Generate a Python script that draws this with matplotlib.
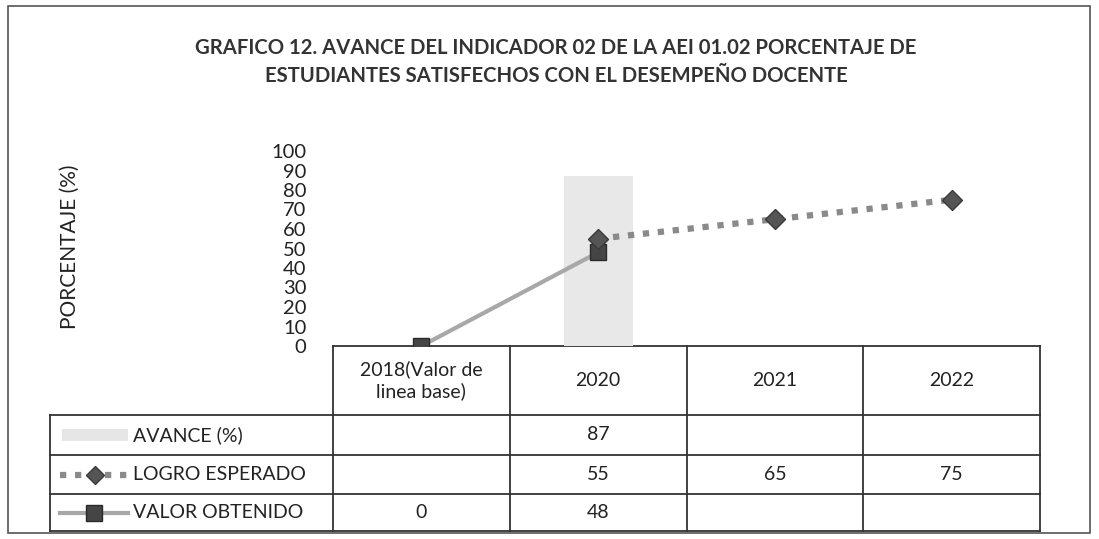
import matplotlib
matplotlib.use("Agg")
import matplotlib.pyplot as plt
from matplotlib.patches import Rectangle
import numpy as np

plt.rcParams['font.family'] = ['Lato', 'DejaVu Sans']

categories = ["2018(Valor de\nlinea base)", "2020", "2021", "2022"]
avance = [None, 87, None, None]
logro = [None, 55, 65, 75]
valor = [0, 48, None, None]
yticks = [0, 10, 20, 30, 40, 50, 60, 70, 80, 90, 100]
title = ("GRAFICO 12. AVANCE DEL INDICADOR 02 DE LA AEI 01.02 PORCENTAJE DE\n"
         "ESTUDIANTES SATISFECHOS CON EL DESEMPEÑO DOCENTE")
series_names = ["AVANCE (%)", "LOGRO ESPERADO", "VALOR OBTENIDO"]

W, H = 1099, 539
fig = plt.figure(figsize=(W / 100, H / 100), dpi=100)

ov = fig.add_axes([0, 0, 1, 1])
ov.set_xlim(0, W)
ov.set_ylim(0, H)
ov.axis("off")

def py(y):
    return H - y

x0, x1 = 333, 1040
y_top, y_bot = 151, 346
ax = fig.add_axes([x0 / W, py(y_bot) / H, (x1 - x0) / W, (y_bot - y_top) / H])
ax.set_xlim(-0.5, len(categories) - 0.5)
ax.set_ylim(0, 100)
ax.set_yticks(yticks)
ax.set_yticklabels([str(t) for t in yticks], fontsize=14.5, color="#222222")
ax.tick_params(axis="y", length=0, pad=19)
ax.set_xticks([])
for s in ax.spines.values():
    s.set_visible(False)
ax.patch.set_alpha(0)

xs = np.arange(len(categories))

bx = [x for x, v in zip(xs, avance) if v is not None]
bv = [v for v in avance if v is not None]
ax.bar(bx, bv, width=0.39, color="#e8e8e8", edgecolor="none", zorder=1)

vx = [x for x, v in zip(xs, valor) if v is not None]
vv = [v for v in valor if v is not None]
ax.plot(vx, vv, color="#a8a8a8", lw=3, zorder=2)
ax.plot(vx, vv, ls="none", marker="s", ms=12, mfc="#454545", mec="#2a2a2a", zorder=4)

lx = [x for x, v in zip(xs, logro) if v is not None]
lv = [v for v in logro if v is not None]
ax.plot(lx, lv, color="#8a8a8a", lw=4.5, dashes=(1.0, 1.4), zorder=3)
ax.plot(lx, lv, ls="none", marker="D", ms=10, mfc="#555555", mec="#3a3a3a", zorder=5)

fig.text(70 / W, py(247) / H, "PORCENTAJE (%)", rotation=90, ha="center", va="center",
         fontsize=15, color="#222222")

fig.text(556 / W, py(62) / H, title, ha="center", va="center", fontsize=14.6,
         fontweight="bold", color="#333333", linespacing=1.5)

ov.add_patch(Rectangle((8, py(533)), 1082, 527, fill=False, ec="#555555", lw=1.2))

fig.canvas.draw()
centers = [ax.transData.transform((x, 0))[0] for x in xs]
edges = [ax.transData.transform((x - 0.5, 0))[0] for x in xs] + [ax.transData.transform((xs[-1] + 0.5, 0))[0]]
row_y = [346, 415, 455, 494, 531]
left = 50
lc = "#333333"
lw = 1.3
ov.plot([edges[0], edges[-1]], [py(row_y[0])] * 2, color=lc, lw=lw)
for yy in row_y[1:]:
    ov.plot([left, edges[-1]], [py(yy)] * 2, color=lc, lw=lw)
for e in edges:
    ov.plot([e, e], [py(row_y[0]), py(row_y[-1])], color=lc, lw=lw)
ov.plot([left, left], [py(row_y[1]), py(row_y[-1])], color=lc, lw=lw)

fs = 14
tc = "#222222"
for c, lab in zip(centers, categories):
    ov.text(c, py((row_y[0] + row_y[1]) / 2), lab, ha="center", va="center",
            fontsize=fs, color=tc, linespacing=1.3)

rows = [avance, logro, valor]
for r, (name, vals) in enumerate(zip(series_names, rows)):
    ymid = py((row_y[r + 1] + row_y[r + 2]) / 2)
    ov.text(133, ymid, name, ha="left", va="center", fontsize=fs, color=tc)
    for c, v in zip(centers, vals):
        if v is not None:
            ov.text(c, ymid, str(v), ha="center", va="center", fontsize=fs, color=tc)

ymid = py((row_y[1] + row_y[2]) / 2)
ov.add_patch(Rectangle((62, ymid - 6), 66, 12, color="#e6e6e6", ec="none"))
ymid = py((row_y[2] + row_y[3]) / 2)
ov.plot([60, 130], [ymid, ymid], color="#8a8a8a", lw=4.5, dashes=(1.0, 1.4))
ov.plot([95], [ymid], marker="D", ms=9, mfc="#555555", mec="#3a3a3a", ls="none")
ymid = py((row_y[3] + row_y[4]) / 2)
ov.plot([60, 128], [ymid, ymid], color="#a8a8a8", lw=3)
ov.plot([94], [ymid], marker="s", ms=11, mfc="#454545", mec="#2a2a2a", ls="none")

fig.savefig("out.png", dpi=100)
